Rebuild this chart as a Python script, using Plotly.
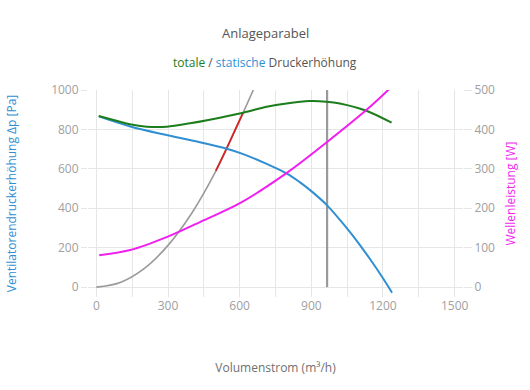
import plotly.graph_objects as go

# Volumenstrom (m³/h) and values
static_x = [10, 142, 299, 451, 546, 615, 713, 796, 850, 900, 966, 1046, 1102, 1158, 1200, 1238]
static_y = [866, 815, 770, 730, 702, 675, 625, 577, 534, 487, 415, 303, 216, 121, 45, -28]

total_x = [10, 80, 140, 211, 295, 392, 469, 615, 713, 796, 894, 963, 1019, 1130, 1236]
total_y = [868, 845, 826, 814, 814, 831, 848, 885, 915, 932, 944, 941, 932, 895, 834]

power_x = [12, 142, 299, 451, 601, 796, 970, 1130, 1236]
power_w = [81, 94, 128, 170, 213, 289, 370, 449, 508]

system_x = [0, 100, 200, 300, 400, 500, 600, 657]
system_y = [0, 24, 94, 212, 376, 588, 846, 1000]

operating_x = [500, 540, 580, 615]
operating_y = [590, 690, 795, 887]

design_x = [966, 966]
design_y = [0, 1000]

x_ticks = [0, 150, 300, 450, 600, 750, 900, 1050, 1200, 1350, 1500]
x_labels = ["0", "", "300", "", "600", "", "900", "", "1200", "", "1500"]

BLUE = "#2F8FD2"
GREEN = "#1C7D1C"
MAGENTA = "#F01EF0"
RED = "#D42424"
GRAY = "#9A9A9A"
FONT = "Open Sans"

fig = go.Figure()
fig.add_trace(go.Scatter(x=system_x, y=system_y, mode="lines", line=dict(color=GRAY, width=1.6, shape="spline"), hoverinfo="skip"))
fig.add_trace(go.Scatter(x=operating_x, y=operating_y, mode="lines", line=dict(color=RED, width=1.8, shape="spline")))
fig.add_trace(go.Scatter(x=design_x, y=design_y, mode="lines", line=dict(color=GRAY, width=2.2)))
fig.add_trace(go.Scatter(x=static_x, y=static_y, mode="lines", line=dict(color=BLUE, width=2, shape="spline")))
fig.add_trace(go.Scatter(x=total_x, y=total_y, mode="lines", line=dict(color=GREEN, width=2, shape="spline")))
fig.add_trace(go.Scatter(x=power_x, y=power_w, mode="lines", yaxis="y2", line=dict(color=MAGENTA, width=2, shape="spline")))

fig.update_layout(
    width=530, height=390,
    margin=dict(l=88, r=67, t=90, b=93),
    paper_bgcolor="white", plot_bgcolor="white",
    showlegend=False,
    font=dict(family=FONT, size=12, color="#999999"),
    xaxis=dict(range=[-35, 1535], tickvals=x_ticks, ticktext=x_labels, automargin=False,
               showgrid=True, gridcolor="#E6E6E6", gridwidth=1, zeroline=False,
               showline=False, ticks="", tickfont=dict(color="#A0A0A0", size=12),
               title=dict(text="Volumenstrom (m³/h)", font=dict(color="#707070", size=12), standoff=50)),
    yaxis=dict(range=[-50, 1000], tickvals=[0, 200, 400, 600, 800, 1000], automargin=False,
               showgrid=True, gridcolor="#E6E6E6", zeroline=False, showline=False,
               ticks="outside", ticklen=6, tickcolor="#E6E6E6",
               tickfont=dict(color="#A0A0A0", size=12),
               title=dict(text="Ventilatorendruckerhöhung Δp [Pa]", font=dict(color=BLUE, size=12), standoff=31)),
    yaxis2=dict(range=[-25, 500], tickvals=[0, 100, 200, 300, 400, 500], overlaying="y", side="right",
                automargin=False, showgrid=False, zeroline=False, showline=False,
                ticks="outside", ticklen=8, tickcolor="#E6E6E6",
                tickfont=dict(color="#A0A0A0", size=12),
                title=dict(text="Wellenleistung [W]", font=dict(color=MAGENTA, size=12), standoff=12)),
)

h_plot = 390 - 90 - 93
w_plot = 530 - 88 - 67
fig.add_annotation(text="Anlageparabel", x=(265 - 88) / w_plot, y=(297 - 33) / h_plot,
                   xref="paper", yref="paper", showarrow=False, yanchor="middle",
                   font=dict(color="#555555", size=13))
fig.add_annotation(text="<span style='color:%s'>totale</span> / <span style='color:%s'>statische</span> Druckerhöhung" % (GREEN, BLUE),
                   x=(265 - 88) / w_plot, y=(297 - 62) / h_plot, xref="paper", yref="paper",
                   showarrow=False, yanchor="middle", font=dict(color="#555555", size=12))

fig.write_html("out.html", config={"displayModeBar": False},
               post_script="document.body.style.margin='0';")
